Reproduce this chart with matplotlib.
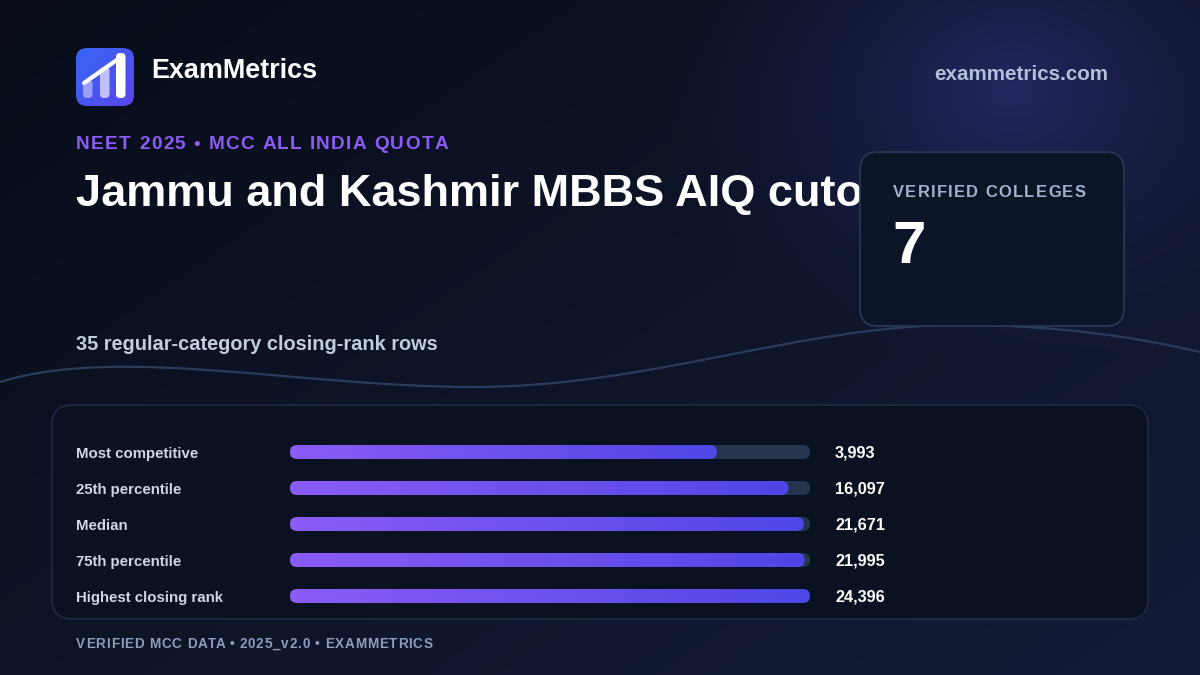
import numpy as np
import matplotlib
matplotlib.use("Agg")
import matplotlib.pyplot as plt
from matplotlib.patches import FancyBboxPatch, PathPatch
from matplotlib.path import Path
from matplotlib.colors import to_rgb

# Chart data
labels = ["Most competitive", "25th percentile", "Median", "75th percentile", "Highest closing rank"]
ranks = [3993, 16097, 21671, 21995, 24396]
verified_colleges = 7
row_count = 35

brand = "ExamMetrics"
site = "exammetrics.com"
kicker = "NEET 2025 \u2022 MCC ALL INDIA QUOTA"
title = "Jammu and Kashmir MBBS AIQ cutoff"
subtitle = f"{row_count} regular-category closing-rank rows"
card_label = "VERIFIED COLLEGES"
footer = "VERIFIED MCC DATA \u2022 2025_v2.0 \u2022 EXAMMETRICS"

plt.rcParams['font.family'] = ['Liberation Sans', 'DejaVu Sans']

W, H = 1200, 675
fig = plt.figure(figsize=(12, 6.75), dpi=100)
ax = fig.add_axes([0, 0, 1, 1])
ax.set_xlim(0, W)
ax.set_ylim(H, 0)
ax.axis('off')
renderer = fig.canvas.get_renderer()


def pt(p):
    # pixel size -> points at 100 dpi
    return p * 0.72


# Background: dark diagonal gradient with a glow at top right
yy, xx = np.mgrid[0:H, 0:W]
t = np.clip(xx / W * 0.55 + yy / H * 0.45, 0, 1)
c0 = np.array(to_rgb("#080d19"))
c1 = np.array(to_rgb("#141c38"))
bg = c0 + (c1 - c0) * t[..., None]
d = np.sqrt(((xx - 1010) / 350.0) ** 2 + ((yy - 90) / 280.0) ** 2)
g = np.clip(1 - d, 0, 1) ** 1.5
glow = np.array(to_rgb("#272b6e"))
bg = bg + (glow - bg) * (g[..., None] * 0.8)
ax.imshow(bg, extent=(0, W, H, 0), aspect='auto', zorder=0)


def grad_box(x0, y0, w, h, c_a, c_b, r, z, diagonal=False):
    patch = FancyBboxPatch((x0, y0), w, h, boxstyle=f"round,pad=0,rounding_size={r}",
                           lw=0, fc='none', zorder=z)
    ax.add_patch(patch)
    a = np.array(to_rgb(c_a))
    b = np.array(to_rgb(c_b))
    if diagonal:
        gy, gx = np.mgrid[0:64, 0:64] / 63.0
        ramp = (gx + gy) / 2
        img = a + (b - a) * ramp[..., None]
    else:
        ramp = np.linspace(0, 1, 256)
        img = (a + (b - a) * ramp[:, None])[None, :, :]
    im = ax.imshow(img, extent=(x0, x0 + w, y0 + h, y0), aspect='auto',
                   zorder=z, interpolation='bilinear')
    im.set_clip_path(patch)


def text_w(s, **kw):
    tt = ax.text(0, 0, s, **kw)
    w = tt.get_window_extent(renderer).width
    tt.remove()
    return w


# letter-spaced caps: one text per glyph
def spaced(x, y, s, sp, **kw):
    ref = text_w("|", **kw)
    for i, ch in enumerate(s):
        if ch == " ":
            continue
        off = text_w(s[:i] + "|", **kw) - ref if i else 0
        ax.text(x + off + sp * i, y, ch, **kw)


# Wave line
verts = [(0, 382), (120, 345), (300, 387), (474, 387),
         (650, 387), (800, 325), (960, 325),
         (1060, 325), (1140, 338), (1200, 352)]
codes = [Path.MOVETO] + [Path.CURVE4] * 9
ax.add_patch(PathPatch(Path(verts, codes), fc='none', ec='#2c3a5c', lw=1.6, zorder=1))

# Logo
grad_box(76, 48, 58, 58, "#3767f6", "#5a45ea", 11, 2, diagonal=True)
for bx, top, col, al in [(83, 80, "#dcdcff", 0.55), (100, 67, "#e6e6ff", 0.75), (116, 53, "#ffffff", 1.0)]:
    ax.add_patch(FancyBboxPatch((bx, top), 9.5, 98 - top, boxstyle="round,pad=0,rounding_size=4",
                                lw=0, fc=col, alpha=al, zorder=3))
ax.plot([84, 121], [83, 57], color='white', lw=3, solid_capstyle='round', zorder=4)

ax.text(151, 78, brand, fontsize=pt(27), fontweight='bold', color='white', zorder=5)
ax.text(1108, 80, site, fontsize=pt(20.7), fontweight='bold', color='#b3bfd8', ha='right', zorder=5)

spaced(76, 149, kicker, 1.45, fontsize=pt(19), fontweight='bold', color='#8b5cf6', zorder=5)
ax.text(76, 206, title, fontsize=pt(45.2), fontweight='bold', color='white', zorder=5)
ax.text(76, 350, subtitle, fontsize=pt(20), fontweight='bold', color='#c3cde0', zorder=5)

# Stat card
ax.add_patch(FancyBboxPatch((860, 152), 264, 174, boxstyle="round,pad=0,rounding_size=18",
                            fc='#0c1528', ec='#2c3856', lw=1.2, zorder=6))
spaced(893, 197, card_label, 1.3, fontsize=pt(16.5), fontweight='bold', color='#a3b1cc', zorder=7)
ax.text(892, 263, str(verified_colleges), fontsize=pt(60), fontweight='bold', color='white', zorder=7)

# Panel
ax.add_patch(FancyBboxPatch((52, 405), 1096, 214, boxstyle="round,pad=0,rounding_size=20",
                            fc='#0a1222', ec='#1f2a45', lw=1.2, zorder=6))

# Bars axes on a log scale, placed over the track area
ax_b = fig.add_axes([290 / W, 1 - 614 / H, 520 / W, 180 / H])
ax_b.set_xscale('log')
ax_b.set_xlim(1, max(ranks))
ax_b.set_ylim(len(ranks) - 0.5, -0.5)
ax_b.axis('off')
ax_b.patch.set_alpha(0)

bar_h = 14
for i, (lab, v) in enumerate(zip(labels, ranks)):
    x_end, y_disp = ax_b.transData.transform((v, i))
    x_start, _ = ax_b.transData.transform((1, i))
    cy = H - y_disp
    ax.add_patch(FancyBboxPatch((290, cy - bar_h / 2), 520, bar_h,
                                boxstyle=f"round,pad=0,rounding_size={bar_h / 2}",
                                fc='#28334e', lw=0, zorder=7))
    grad_box(x_start, cy - bar_h / 2, x_end - x_start, bar_h, "#8b5cf6", "#4f46e5", bar_h / 2, 8)
    ax.text(76, cy + 6, lab, fontsize=pt(15), fontweight='bold', color='#cfd7e6', zorder=8)
    ax.text(835, cy + 5.8, f"{v:,}", fontsize=pt(16.3), fontweight='bold', color='white', zorder=8)

spaced(76, 648, footer, 0.8, fontsize=pt(13.5), fontweight='bold', color='#8f9cba', zorder=5)

fig.savefig("out.png", dpi=100)
